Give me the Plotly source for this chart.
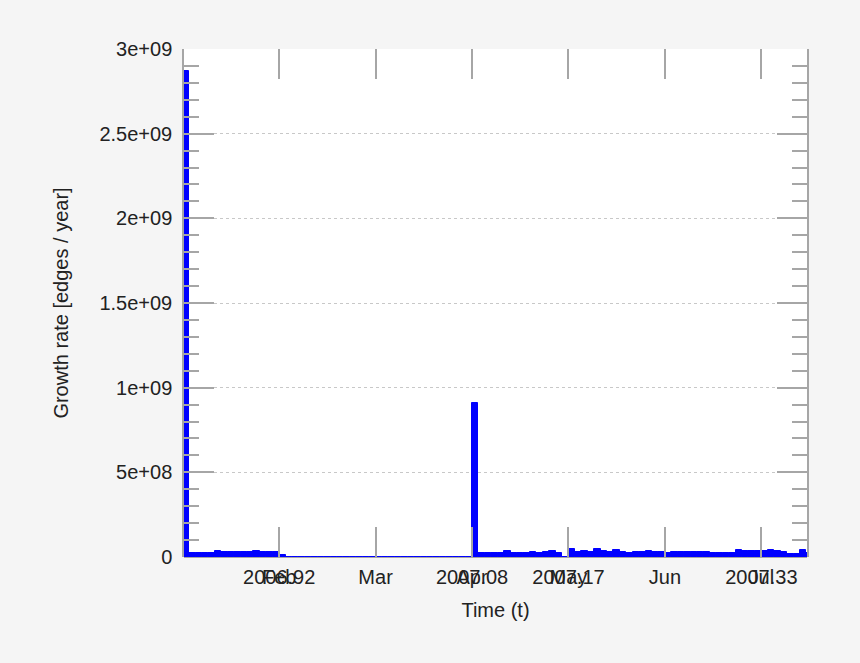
import plotly.graph_objects as go

# Growth rate per 2-day bin (edges / year); bin 0 is partly cut off at the left edge
growth_rate = [
    2.87e9,
    2.5e7, 2.5e7, 2.6e7, 2.5e7, 3.5e7, 3.0e7, 3.0e7, 2.8e7, 3.0e7, 3.1e7,
    3.7e7, 2.7e7, 3.0e7, 2.9e7, 1.4e7,
    0, 0, 0, 0, 0, 0, 0, 0, 0, 0,
    0, 0, 0, 0, 0, 0, 0, 0, 0, 0,
    0, 0, 0, 0, 0, 0, 0, 0, 0,
    9.1e8,
    2.4e7, 2.2e7, 2.6e7, 2.3e7, 3.8e7, 2.5e7, 2.3e7, 2.6e7, 2.7e7, 2.6e7,
    2.7e7, 3.8e7, 2.3e7,
    0,
    4.7e7, 3.1e7, 3.6e7, 3.0e7, 4.9e7, 3.5e7, 3.0e7, 4.2e7, 3.0e7, 2.6e7,
    2.9e7, 2.9e7, 3.6e7, 2.9e7, 2.9e7, 2.6e7, 3.0e7, 3.2e7,
    3.2e7, 3.2e7, 3.1e7, 2.7e7, 2.6e7, 2.3e7, 2.3e7, 2.4e7, 3.9e7, 3.3e7,
    3.3e7, 3.3e7, 3.4e7, 3.9e7, 3.3e7, 3.2e7, 2.0e7, 1.6e7, 3.9e7, 2.3e7,
]

# x axis ticks (bin units, 15 bins per month)
month_ticks = [15, 30, 45, 60, 75, 90]
month_labels = ["Feb", "Mar", "Apr", "May", "Jun", "Jul"]
year_ticks = [15, 45, 60, 90]
year_labels = ["2006.92", "2007.08", "2007.17", "2007.33"]

y_ticks = [0, 5e8, 1e9, 1.5e9, 2e9, 2.5e9, 3e9]
y_labels = ["0", "5e+08", "1e+09", "1.5e+09", "2e+09", "2.5e+09", "3e+09"]

FONT = "Liberation Sans, Arial, Helvetica, sans-serif"
TXT = "#222222"
TICKC = "#a6a6a6"
BG = "#f5f5f5"
XRANGE = [0.2, 97.1]

fig = go.Figure()
fig.add_trace(go.Bar(
    y=growth_rate, x0=0.5, dx=1, width=1,
    marker=dict(color="#0000ff", line=dict(color="#0000ff", width=1)),
    showlegend=False,
))
# invisible carrier so the overlaid year-label axis is drawn
fig.add_trace(go.Scatter(
    x=year_ticks, y=[0] * len(year_ticks), xaxis="x2", yaxis="y",
    mode="markers", marker=dict(opacity=0), hoverinfo="skip", showlegend=False,
))

fig.update_layout(
    width=860, height=663,
    paper_bgcolor=BG, plot_bgcolor="#ffffff",
    margin=dict(l=184, r=53, t=49, b=106),
    bargap=0,
    font=dict(family=FONT, size=20, color=TXT),
    xaxis=dict(
        range=XRANGE, tickmode="array", tickvals=month_ticks, ticktext=month_labels,
        ticks="inside", ticklen=30, tickwidth=1.5, tickcolor=TICKC,
        showline=False, mirror="ticks", showgrid=False, zeroline=False,
        ticklabelstandoff=6,
        title=dict(text="Time (t)", standoff=15, font=dict(size=20, color=TXT)),
        tickfont=dict(size=20, color=TXT),
    ),
    xaxis2=dict(
        range=XRANGE, overlaying="x", side="bottom", anchor="y",
        tickmode="array", tickvals=year_ticks, ticktext=year_labels,
        ticks="", showline=False, showgrid=False, zeroline=False,
        ticklabelstandoff=6,
        tickfont=dict(size=20, color=TXT),
    ),
    yaxis=dict(
        range=[0, 3e9], tickmode="array", tickvals=y_ticks, ticktext=y_labels,
        ticks="inside", ticklen=30, tickwidth=1.5, tickcolor=TICKC,
        showline=True, linecolor=TICKC, linewidth=1.5, mirror="ticks",
        showgrid=True, gridcolor="#c8c8c8", griddash="dot", gridwidth=1,
        zeroline=True, zerolinecolor=TICKC, zerolinewidth=1.5,
        minor=dict(dtick=1e8, ticks="inside", ticklen=15, tickwidth=1.5,
                   tickcolor=TICKC, showgrid=False),
        ticklabelstandoff=6,
        title=dict(text="Growth rate [edges / year]", standoff=25,
                   font=dict(size=20, color=TXT)),
        tickfont=dict(size=20, color=TXT),
    ),
)

fig.write_html(
    "out.html",
    config={"displayModeBar": False},
    post_script="document.body.style.margin='0';document.body.style.background='%s';" % BG,
)
